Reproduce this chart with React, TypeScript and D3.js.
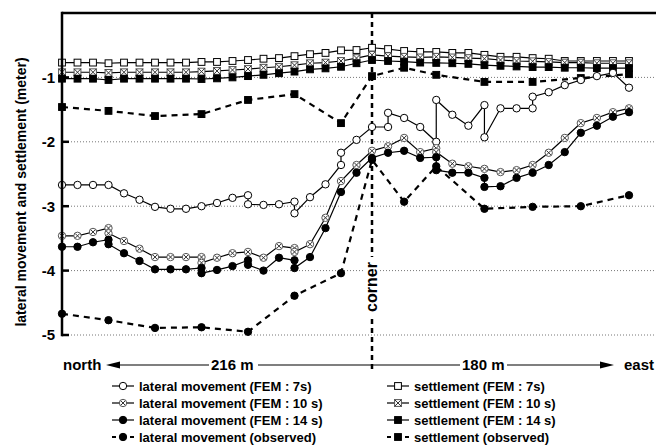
import React, { useEffect, useRef } from "react";
import * as d3 from "d3";

// station index: 0 = north end, 20 = corner, 36 = east end
const CORNER = 20;
const LAST = 36;

const yTicks = [-1, -2, -3, -4, -5];

// settlement (FEM), one value per station 0..36
const settlement7s = [
  -0.77, -0.77, -0.77, -0.78, -0.77, -0.77, -0.77, -0.77, -0.77, -0.76, -0.76, -0.745, -0.73,
  -0.71, -0.7, -0.67, -0.64, -0.62, -0.58, -0.575, -0.54, -0.56, -0.59, -0.605, -0.605, -0.62,
  -0.62, -0.65, -0.68, -0.68, -0.7, -0.71, -0.745, -0.745, -0.745, -0.745, -0.745,
];
const settlement10s = [
  -0.92, -0.92, -0.92, -0.93, -0.92, -0.92, -0.92, -0.92, -0.92, -0.91, -0.9, -0.885, -0.87,
  -0.85, -0.835, -0.81, -0.78, -0.77, -0.745, -0.7, -0.65, -0.67, -0.68, -0.69, -0.68, -0.69,
  -0.7, -0.71, -0.73, -0.745, -0.75, -0.76, -0.77, -0.77, -0.78, -0.78, -0.78,
];
const settlement14s = [
  -1.02, -1.02, -1.02, -1.04, -1.02, -1.02, -1.02, -1.02, -1.02, -1.025, -1.015, -1.0, -0.98,
  -0.96, -0.935, -0.91, -0.875, -0.86, -0.835, -0.78, -0.73, -0.745, -0.755, -0.77, -0.775, -0.78,
  -0.79, -0.81, -0.82, -0.83, -0.84, -0.84, -0.85, -0.85, -0.855, -0.855, -0.855,
];
const settlementObserved = [
  [0, -1.46], [3, -1.52], [6, -1.6], [9, -1.57], [12, -1.35], [15, -1.26], [18, -1.71],
  [20, -0.98], [22, -0.85], [24, -0.96], [27, -1.07], [30, -1.07], [33, -1.01], [36, -0.95],
];

// lateral movement, [station, value]; repeated stations are segment joints
const lateral7s = [
  [0, -2.67], [1, -2.67], [2, -2.67], [3, -2.67], [4, -2.8], [5, -2.9], [6, -3.01], [7, -3.04],
  [8, -3.04], [9, -3.0], [10, -2.95], [11, -2.87], [12, -2.83], [12, -2.97], [13, -2.98],
  [14, -2.97], [15, -2.93], [15, -3.11], [16, -2.86], [17, -2.66], [18, -2.36], [18, -2.17],
  [19, -1.97], [20, -1.77], [21, -1.77], [21, -1.55], [22, -1.63], [23, -1.77], [24, -2.0],
  [24, -1.35], [25, -1.58], [26, -1.75], [27, -1.43], [27, -1.93], [28, -1.48], [29, -1.48],
  [30, -1.48], [30, -1.3], [31, -1.23], [32, -1.12], [33, -1.04], [34, -0.98], [35, -0.93],
  [36, -1.16],
];
const lateral10s = [
  [0, -3.46], [1, -3.46], [2, -3.4], [3, -3.34], [3, -3.42], [4, -3.54], [5, -3.66], [6, -3.79],
  [7, -3.79], [8, -3.79], [9, -3.79], [9, -3.88], [10, -3.8], [11, -3.73], [12, -3.71],
  [13, -3.8], [14, -3.62], [15, -3.65], [15, -3.71], [16, -3.59], [17, -3.18], [18, -2.61],
  [19, -2.36], [20, -2.14], [21, -2.07], [22, -1.94], [23, -2.16], [24, -2.1], [24, -2.16],
  [25, -2.34], [26, -2.38], [27, -2.42], [28, -2.47], [29, -2.44], [30, -2.36], [31, -2.17],
  [32, -1.94], [33, -1.71], [34, -1.63], [35, -1.54], [36, -1.48],
];
const lateral14s = [
  [0, -3.63], [1, -3.63], [2, -3.56], [3, -3.52], [3, -3.59], [4, -3.73], [5, -3.85], [6, -3.98],
  [7, -3.98], [8, -3.98], [9, -3.96], [9, -4.04], [10, -3.99], [11, -3.93], [12, -3.84],
  [12, -3.91], [13, -4.0], [14, -3.8], [15, -3.84], [15, -3.96], [16, -3.79], [17, -3.34],
  [18, -2.78], [19, -2.48], [20, -2.25], [21, -2.17], [22, -2.14], [23, -2.25], [24, -2.24],
  [24, -2.44], [25, -2.48], [26, -2.48], [27, -2.56], [27, -2.7], [28, -2.69], [29, -2.56],
  [30, -2.48], [31, -2.36], [32, -2.16], [33, -1.86], [34, -1.75], [35, -1.61], [36, -1.54],
];
const lateralObserved = [
  [0, -4.67], [3, -4.77], [6, -4.89], [9, -4.88], [12, -4.95], [15, -4.39], [18, -4.04],
  [20, -2.28], [22, -2.93], [24, -2.38], [27, -3.04], [30, -3.01], [33, -3.0], [36, -2.83],
];

const toPairs = (vals) => vals.map((v, i) => [i, v]);

const series = [
  { name: "settlement (FEM : 7s)", data: toPairs(settlement7s), marker: "squareOpen", dashed: false },
  { name: "settlement (FEM : 10 s)", data: toPairs(settlement10s), marker: "squareCross", dashed: false },
  { name: "settlement (FEM : 14 s)", data: toPairs(settlement14s), marker: "squareFilled", dashed: false },
  { name: "settlement (observed)", data: settlementObserved, marker: "squareFilled", dashed: true },
  { name: "lateral movement (FEM : 7s)", data: lateral7s, marker: "circleOpen", dashed: false },
  { name: "lateral movement (FEM : 10 s)", data: lateral10s, marker: "circleCross", dashed: false },
  { name: "lateral movement (FEM : 14 s)", data: lateral14s, marker: "circleFilled", dashed: false },
  { name: "lateral movement (observed)", data: lateralObserved, marker: "circleFilled", dashed: true },
];

const legendLeft = [4, 5, 6, 7];
const legendRight = [0, 1, 2, 3];

const FONT = "'Liberation Sans', Arial, Helvetica, sans-serif";

const drawMarker = (g, type, cx, cy) => {
  const r = 3.7;
  const s = 3.4;
  if (type.startsWith("circle")) {
    g.append("circle")
      .attr("cx", cx).attr("cy", cy).attr("r", r)
      .attr("fill", type === "circleFilled" ? "#000" : "#fff")
      .attr("stroke", type === "circleCross" ? "#555" : "#000")
      .attr("stroke-width", 1);
    if (type === "circleCross") {
      const k = 2.2;
      g.append("path")
        .attr("d", `M${cx - k},${cy - k}L${cx + k},${cy + k}M${cx - k},${cy + k}L${cx + k},${cy - k}`)
        .attr("stroke", "#333").attr("stroke-width", 1);
    }
  } else {
    g.append("rect")
      .attr("x", cx - s).attr("y", cy - s).attr("width", 2 * s).attr("height", 2 * s)
      .attr("fill", type === "squareFilled" ? "#000" : "#fff")
      .attr("stroke", type === "squareCross" ? "#555" : "#000")
      .attr("stroke-width", 1);
    if (type === "squareCross") {
      g.append("path")
        .attr("d", `M${cx - s},${cy - s}L${cx + s},${cy + s}M${cx - s},${cy + s}L${cx + s},${cy - s}`)
        .attr("stroke", "#333").attr("stroke-width", 1);
    }
  }
};

const App = () => {
  const ref = useRef(null);

  useEffect(() => {
    drawChart();
  }, []);

  const drawChart = () => {
    const svg = d3.select(ref.current);
    svg.selectAll("*").remove();

    const left = 62;
    const right = 656;
    const x = d3.scaleLinear().domain([0, CORNER, LAST]).range([62, 372, 629]);
    const y = d3.scaleLinear().domain([-5, 0]).range([335, 13]);

    // dotted grid
    svg.append("g")
      .selectAll("line")
      .data(yTicks)
      .join("line")
      .attr("x1", left).attr("x2", right)
      .attr("y1", (d) => y(d)).attr("y2", (d) => y(d))
      .attr("stroke", "#777").attr("stroke-width", 1).attr("stroke-dasharray", "1,2");

    // corner line
    const cx = x(CORNER);
    svg.append("line")
      .attr("x1", cx).attr("x2", cx).attr("y1", y(0)).attr("y2", 372)
      .attr("stroke", "#000").attr("stroke-width", 2.5).attr("stroke-dasharray", "5,4");

    // series lines
    const line = d3.line().x((d) => x(d[0])).y((d) => y(d[1]));
    const plot = svg.append("g");
    series.forEach((s) => {
      plot.append("path")
        .attr("d", line(s.data))
        .attr("fill", "none")
        .attr("stroke", "#000")
        .attr("stroke-width", s.dashed ? 2.2 : 1.2)
        .attr("stroke-dasharray", s.dashed ? "6,5" : null);
    });
    series.forEach((s) => {
      const g = plot.append("g");
      s.data.forEach((d) => drawMarker(g, s.marker, x(d[0]), y(d[1])));
    });

    // axes frame
    svg.append("line")
      .attr("x1", left).attr("x2", right).attr("y1", y(0)).attr("y2", y(0))
      .attr("stroke", "#000").attr("stroke-width", 2.5);
    svg.append("line")
      .attr("x1", left).attr("x2", left).attr("y1", y(0) - 1.2).attr("y2", y(-5) + 1.2)
      .attr("stroke", "#000").attr("stroke-width", 2.5);
    svg.append("g")
      .selectAll("line")
      .data(yTicks)
      .join("line")
      .attr("x1", left).attr("x2", left + 7)
      .attr("y1", (d) => y(d)).attr("y2", (d) => y(d))
      .attr("stroke", "#000").attr("stroke-width", 2.5);
    svg.append("g")
      .selectAll("text")
      .data(yTicks)
      .join("text")
      .attr("x", 55).attr("y", (d) => y(d))
      .attr("dy", "0.36em")
      .attr("text-anchor", "end")
      .style("font-family", FONT).style("font-size", "15px").style("font-weight", "bold")
      .text((d) => `${d}`);

    // y label
    svg.append("text")
      .attr("transform", `translate(26,${(y(0) + y(-5)) / 2 + 18}) rotate(-90)`)
      .attr("text-anchor", "middle")
      .style("font-family", FONT).style("font-size", "14px").style("font-weight", "bold")
      .text("lateral movement and settlement (meter)");

    // corner label
    svg.append("rect")
      .attr("x", cx - 8).attr("y", 257).attr("width", 16).attr("height", 60)
      .attr("fill", "#fff");
    svg.append("text")
      .attr("transform", `translate(${cx + 5},287) rotate(-90)`)
      .attr("text-anchor", "middle")
      .style("font-family", FONT).style("font-size", "16px").style("font-weight", "bold")
      .text("corner");

    // distance row
    const rowY = 365;
    const lbl = (t, px, anchor = "start") =>
      svg.append("text")
        .attr("x", px).attr("y", rowY).attr("dy", "0.36em")
        .attr("text-anchor", anchor)
        .style("font-family", FONT).style("font-size", "15px").style("font-weight", "bold")
        .text(t);
    lbl("north", 63);
    lbl("216 m", 211);
    lbl("180 m", 462);
    lbl("east", 654, "end");
    const seg = (x1, x2) =>
      svg.append("line").attr("x1", x1).attr("x2", x2).attr("y1", rowY).attr("y2", rowY)
        .attr("stroke", "#000").attr("stroke-width", 1.2);
    seg(110, 209);
    seg(258, 460);
    seg(507, 608);
    svg.append("path").attr("d", `M106,${rowY}L120,${rowY - 3.5}L120,${rowY + 3.5}Z`).attr("fill", "#000");
    svg.append("path").attr("d", `M614,${rowY}L600,${rowY - 3.5}L600,${rowY + 3.5}Z`).attr("fill", "#000");

    // legend
    const rows = [386, 403, 420, 437];
    const legendCol = (items, mx) => {
      items.forEach((idx, i) => {
        const s = series[idx];
        const ly = rows[i];
        const g = svg.append("g");
        if (s.dashed) {
          g.append("path")
            .attr("d", `M${mx - 11},${ly}L${mx - 7},${ly}M${mx + 7},${ly}L${mx + 11},${ly}`)
            .attr("stroke", "#000").attr("stroke-width", 2);
        } else {
          g.append("line").attr("x1", mx - 11).attr("x2", mx + 11).attr("y1", ly).attr("y2", ly)
            .attr("stroke", "#000").attr("stroke-width", 1.2);
        }
        drawMarker(g, s.marker, mx, ly);
        g.append("text")
          .attr("x", mx + 16).attr("y", ly).attr("dy", "0.36em")
          .style("font-family", FONT).style("font-size", "13px").style("font-weight", "bold")
          .text(s.name);
      });
    };
    legendCol(legendLeft, 123);
    legendCol(legendRight, 398);
  };

  return (
    <svg
      ref={ref}
      width={656}
      height={446}
      style={{ position: "absolute", left: 0, top: 0, background: "#fff" }}
    />
  );
};

export default App;
